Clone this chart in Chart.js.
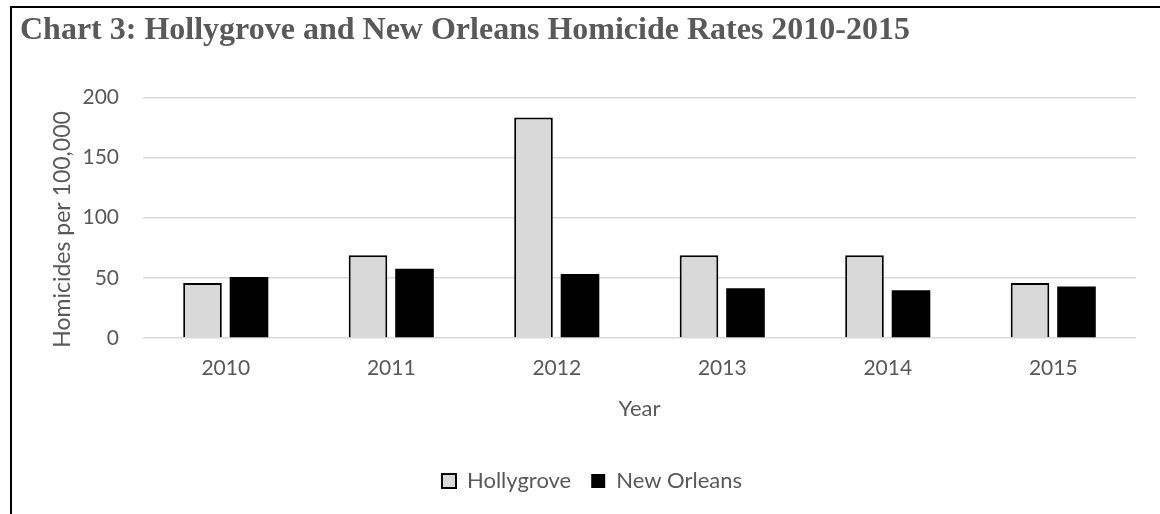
<!DOCTYPE html>
<html>
<head>
<meta charset="utf-8">
<style>
  html, body { margin: 0; padding: 0; background: #ffffff; }
  #wrap { position: relative; width: 1160px; height: 514px; }
  canvas { display: block; }
</style>
<script src="https://cdn.jsdelivr.net/npm/chart.js@4.4.1/dist/chart.umd.min.js"></script>
</head>
<body>
<div id="wrap"><canvas id="chart" width="1160" height="514"></canvas></div>
<script>
// Homicides per 100,000 residents, by year
const years = ['2010', '2011', '2012', '2013', '2014', '2015'];
const hollygrove = [45.8, 68.7, 183.2, 68.7, 68.7, 45.8];
const newOrleans = [50.7, 57.5, 53.2, 41.4, 39.6, 42.9];
const yTicks = [0, 50, 100, 150, 200];

const GREY_TEXT = '#595959';
const GRID = '#d9d9d9';
const BODY_FONT = 'Lato';

// Frame lines along the top and left edges of the figure
const framePlugin = {
  id: 'frame',
  afterDraw(chart) {
    const ctx = chart.ctx;
    ctx.save();
    ctx.strokeStyle = '#000000';
    ctx.lineWidth = 2;
    ctx.beginPath();
    ctx.moveTo(11, 514);
    ctx.lineTo(11, 7);
    ctx.lineTo(1160, 7);
    ctx.stroke();
    ctx.restore();
  }
};

// Narrow the legend band on its left so the items sit a little further right
const legendShift = {
  id: 'legendShift',
  afterLayout(chart) {
    if (chart.legend) chart.legend.left += 28;
  }
};

new Chart(document.getElementById('chart'), {
  type: 'bar',
  data: {
    labels: years,
    datasets: [
      {
        label: 'Hollygrove',
        data: hollygrove,
        backgroundColor: '#d9d9d9',
        borderColor: '#000000',
        borderWidth: 2,
        categoryPercentage: 0.562,
        barPercentage: 0.83
      },
      {
        label: 'New Orleans',
        data: newOrleans,
        backgroundColor: '#000000',
        borderColor: '#000000',
        borderWidth: 0,
        categoryPercentage: 0.562,
        barPercentage: 0.83
      }
    ]
  },
  options: {
    responsive: false,
    animation: false,
    devicePixelRatio: 1,
    layout: { padding: { left: 20, right: 24, top: 0, bottom: 12 } },
    plugins: {
      tooltip: { enabled: false },
      title: {
        display: true,
        text: 'Chart 3: Hollygrove and New Orleans Homicide Rates 2010-2015',
        align: 'start',
        color: GREY_TEXT,
        font: { family: 'Liberation Serif', size: 32, weight: 'bold', lineHeight: 1.2 },
        padding: { top: 12, bottom: 47 }
      },
      legend: {
        display: true,
        position: 'bottom',
        labels: {
          color: GREY_TEXT,
          font: { family: BODY_FONT, size: 22 },
          boxWidth: 14,
          boxHeight: 14,
          padding: 20
        }
      }
    },
    scales: {
      x: {
        grid: { display: false, drawTicks: false },
        border: { display: false },
        ticks: {
          color: GREY_TEXT,
          font: { family: BODY_FONT, size: 21, lineHeight: 1.2 },
          padding: 18
        },
        title: {
          display: true,
          text: 'Year',
          color: GREY_TEXT,
          font: { family: BODY_FONT, size: 22, lineHeight: 1.2 },
          padding: { top: 0, bottom: 28 }
        },
        afterFit(scale) { scale.height = 112; }
      },
      y: {
        min: 0,
        max: 200,
        afterBuildTicks(scale) { scale.ticks = yTicks.map(v => ({ value: v })); },
        grid: { color: GRID, lineWidth: 1.5, drawTicks: false },
        border: { display: false },
        ticks: {
          color: GREY_TEXT,
          font: { family: BODY_FONT, size: 21, lineHeight: 1.2 },
          padding: 24
        },
        title: {
          display: true,
          text: 'Homicides per 100,000    ',
          color: GREY_TEXT,
          font: { family: BODY_FONT, size: 23, lineHeight: 1.2 },
          padding: { top: 29, bottom: 0 }
        },
        afterFit(scale) { scale.width = 123; }
      }
    }
  },
  plugins: [framePlugin, legendShift]
});
</script>
</body>
</html>
